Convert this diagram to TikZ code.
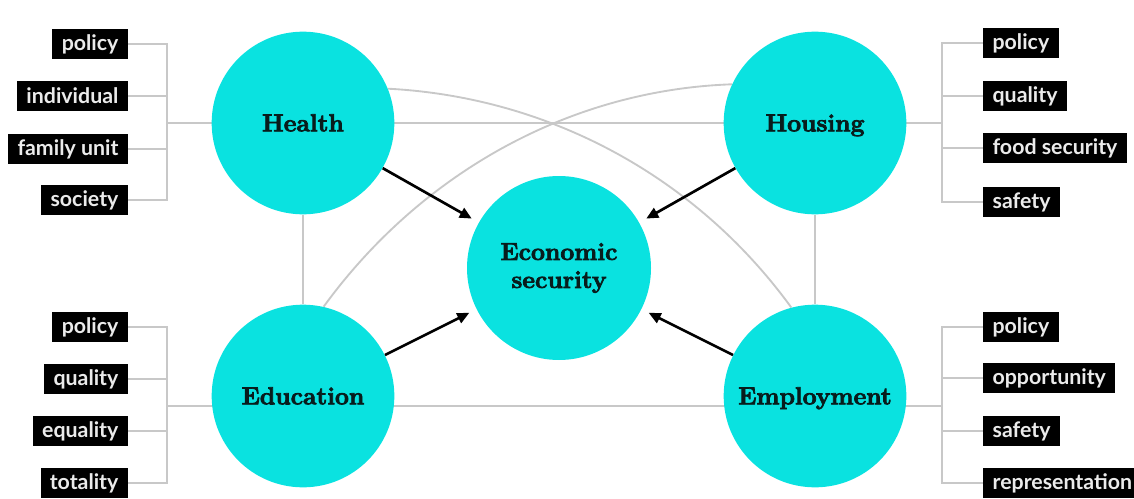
\documentclass[tikz,border=0pt]{standalone}
\usepackage{fontspec}
\newfontfamily\labfont{Lato}
\usetikzlibrary{arrows.meta,backgrounds}
\definecolor{cy}{RGB}{10,226,224}
\definecolor{ln}{RGB}{200,200,200}
\definecolor{txt}{RGB}{8,28,28}
\newcommand\heavyon{\special{pdf:literal direct 2 Tr 0.55 w}}
\newcommand\heavyoff{\special{pdf:literal direct 0 Tr}}
\begin{document}
\begin{tikzpicture}[x=0.75pt,y=-0.75pt,
  hub/.style={circle, fill=cy, minimum size=137pt, inner sep=0pt,
    font=\fontsize{18.5}{21}\selectfont\bfseries, text=txt, align=center},
  onel/.style={text height=14pt, text depth=1.5pt},
  lab/.style={fill=black, text=white!92!black,
    font=\labfont\bfseries\fontsize{16}{17}\selectfont,
    minimum height=23pt, inner xsep=7pt, inner ysep=0pt},
  grayline/.style={draw=ln, line width=1.4pt},
  arr/.style={-{Triangle[length=9pt,width=8pt]}, line width=2pt, shorten >=6pt}]
\useasboundingbox (0,0) rectangle (1134,499);
% hubs
\node[hub, onel] (health) at (303,123) {\heavyon Health\heavyoff};
\node[hub, onel] (housing) at (815,123) {\heavyon Housing\heavyoff};
\node[hub, onel] (edu) at (303,396) {\heavyon Education\heavyoff};
\node[hub, onel] (emp) at (815,396) {\heavyon Employment\heavyoff};
\node[hub, minimum size=138pt] (econ) at (559,268) {\heavyon Economic\heavyoff\\\heavyon security\heavyoff};
% labels left top
\node[lab, anchor=east] (hl1) at (128,44) {policy};
\node[lab, anchor=east] (hl2) at (128,96) {individual};
\node[lab, anchor=east] (hl3) at (128,149) {family unit};
\node[lab, anchor=east] (hl4) at (128,200) {society};
% labels right top
\node[lab, anchor=west] (hr1) at (983,43) {policy};
\node[lab, anchor=west] (hr2) at (983,96) {quality};
\node[lab, anchor=west] (hr3) at (983,148) {food security};
\node[lab, anchor=west] (hr4) at (983,202) {safety};
% labels left bottom
\node[lab, anchor=east] (el1) at (128,327) {policy};
\node[lab, anchor=east] (el2) at (128,379) {quality};
\node[lab, anchor=east] (el3) at (128,431) {equality};
\node[lab, anchor=east] (el4) at (128,483) {totality};
% labels right bottom
\node[lab, anchor=west] (er1) at (983,327) {policy};
\node[lab, anchor=west] (er2) at (983,378) {opportunity};
\node[lab, anchor=west] (er3) at (983,431) {safety};
\node[lab, anchor=west] (er4) at (983,483) {representation};
% bus coordinates
\coordinate (tl) at (167,123);
\coordinate (tr) at (942,123);
\coordinate (bl) at (167,406);
\coordinate (br) at (942,406);
\begin{scope}[on background layer]
  \foreach \n in {hl1,hl2,hl3,hl4} \draw[grayline] (\n.east) -| (tl);
  \foreach \n in {hr1,hr2,hr3,hr4} \draw[grayline] (\n.west) -| (tr);
  \foreach \n in {el1,el2,el3,el4} \draw[grayline] (\n.east) -| (bl);
  \foreach \n in {er1,er2,er3,er4} \draw[grayline] (\n.west) -| (br);
  \draw[grayline] (tl) -- (tr);
  \draw[grayline] (bl) -- (br);
  \draw[grayline] (health) -- (edu);
  \draw[grayline] (housing) -- (emp);
  \draw[grayline] (health.22.6) to[out=-3, in=126, looseness=0.9] (emp.105);
  \draw[grayline] (edu.77) to[out=54, in=182, looseness=0.9] (housing.155);
\end{scope}
% arrows
\draw[arr] (health) -- (econ);
\draw[arr] (housing) -- (econ);
\draw[arr] (edu) -- (econ);
\draw[arr] (emp) -- (econ);
\end{tikzpicture}
\end{document}
